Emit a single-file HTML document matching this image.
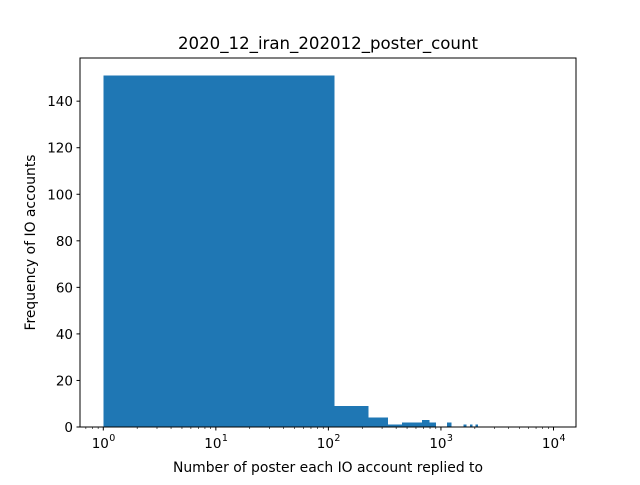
<!DOCTYPE html>
<html><head><meta charset="utf-8"><style>
body{margin:0;background:#fff;}
svg text{font-family:"DejaVu Sans","Liberation Sans",sans-serif;fill:#000;}
</style></head><body>
<svg id="chart" width="640" height="480" viewBox="0 0 640 480" xmlns="http://www.w3.org/2000/svg">
<rect width="640" height="480" fill="#fff"/>
<text x="328" y="49" font-size="16.6" text-anchor="middle">2020_12_iran_202012_poster_count</text>
<text x="328" y="472" font-size="13.9" text-anchor="middle">Number of poster each IO account replied to</text>
<text transform="translate(35,242.5) rotate(-90)" font-size="13.9" text-anchor="middle">Frequency of IO accounts</text>
<g id="bars" shape-rendering="crispEdges"></g><g id="axes"></g>
</svg>
<script>
const binStart = 1;
const binWidth = 112.7;
const counts = [151,9,4,1,2,2,3,2,0,0,2,0,0,0,1,0,1,0,1];
const yTicks = [0,20,40,60,80,100,120,140];
const xTickExps = [0,1,2,3,4];

const L=80,R=576,T=58,B=427;
const logMin=-0.207, logMax=4.2, yMax=158.55;
function xs(v){return L+(Math.log10(v)-logMin)/(logMax-logMin)*(R-L);}
function ys(v){return B-v/yMax*(B-T);}
const NS="http://www.w3.org/2000/svg";
function mk(tag,attrs,parent){const e=document.createElementNS(NS,tag);for(const k in attrs)e.setAttribute(k,attrs[k]);parent.appendChild(e);return e;}
const bars=document.getElementById('bars'), axes=document.getElementById('axes');
counts.forEach((c,i)=>{
  if(!c) return;
  const a=binStart+i*binWidth,b=a+binWidth;
  const r=mk('rect',{x:xs(a),y:ys(c),width:xs(b)-xs(a),height:B-ys(c),fill:'#1f77b4'},bars);
  
  
});
const frame=mk('rect',{x:L,y:T,width:R-L,height:B-T,fill:'none',stroke:'#000','stroke-width':1},axes);


yTicks.forEach(v=>{
  const y=ys(v);
  mk('line',{x1:L-3.5,x2:L,y1:y,y2:y,stroke:'#000'},axes);
  const t=mk('text',{x:L-7,y:y+5,'font-size':13.5,'text-anchor':'end'},axes);
  t.textContent=v;
  
  
});
for(let e=-1;e<=4;e++){
  for(let m=2;m<=9;m++){
    const v=m*Math.pow(10,e);
    const lv=Math.log10(v); if(lv<logMin||lv>logMax) continue;
    const x=xs(v); mk('line',{x1:x,x2:x,y1:B,y2:B+2,stroke:'#000','stroke-width':0.6},axes);
  }
}
xTickExps.forEach(e=>{
  const x=xs(Math.pow(10,e));
  mk('line',{x1:x,x2:x,y1:B,y2:B+3.5,stroke:'#000'},axes);
  const t=mk('text',{x:x-3,y:B+21,'font-size':13.5,'text-anchor':'middle'},axes);
  
  
  t.textContent='10';
  const s=mk('text',{x:x+9,y:B+14,'font-size':9.5,'text-anchor':'middle'},axes);
  s.textContent=e;
});
</script>
</body></html>
